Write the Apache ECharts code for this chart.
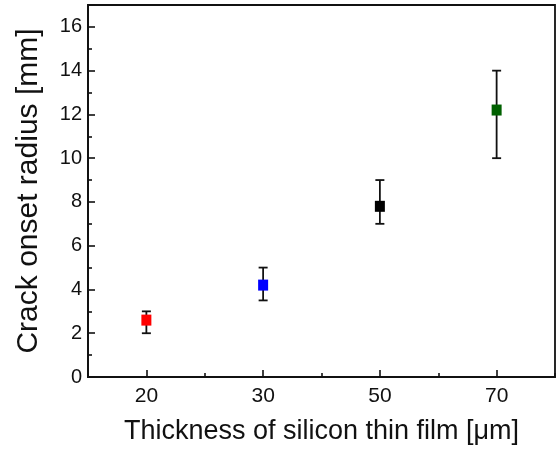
<!DOCTYPE html>
<html>
<head>
<meta charset="utf-8">
<script src="https://cdn.jsdelivr.net/npm/echarts@6/dist/echarts.min.js"></script>
<style>
  html, body { margin: 0; padding: 0; background: #fff; }
  #chart { width: 556px; height: 450px; }
</style>
</head>
<body>
<div id="chart"></div>
<script>
// film thickness (um) and measured crack onset radius (mm)
const thickness = ["20", "30", "50", "70"];
const radius = [2.6, 4.2, 7.8, 12.2];
const errLow = [2.0, 3.5, 7.0, 10.0];
const errHigh = [3.0, 5.0, 9.0, 14.0];
const yTicks = [0, 2, 4, 6, 8, 10, 12, 14, 16];

const markerColors = ["#ff0000", "#0000ff", "#000000", "#006000"];
const font = "Liberation Sans, Arial, sans-serif";

const myChart = echarts.init(document.getElementById("chart"));

const tickStyle = { color: "#111", width: 1.6 };

const option = {
  animation: false,
  grid: {
    left: 88,
    right: 1,
    top: 5,
    bottom: 72,
    show: true,
    borderColor: "#111",
    borderWidth: 1.8,
  },
  xAxis: [
    {
      type: "category",
      data: thickness,
      name: "Thickness of silicon thin film [\u03bcm]",
      nameLocation: "middle",
      nameGap: 41,
      nameTextStyle: { fontFamily: font, fontSize: 27, color: "#111" },
      axisLine: { show: true, lineStyle: { color: "#111", width: 1.8 } },
      axisTick: { show: true, inside: true, alignWithLabel: true, length: 7, lineStyle: tickStyle },
      axisLabel: { show: true, fontFamily: font, fontSize: 21, color: "#111", margin: 9 },
      splitLine: { show: false },
    },
    {
      // short ticks on the boundaries between categories
      type: "category",
      data: thickness,
      position: "bottom",
      axisLine: { show: false },
      axisTick: { show: true, inside: true, length: 4, lineStyle: tickStyle },
      axisLabel: { show: false },
      splitLine: { show: false },
    },
  ],
  yAxis: {
    type: "value",
    min: 0,
    max: 17,
    interval: 2,
    name: "Crack onset radius [mm]",
    nameLocation: "middle",
    nameGap: 44,
    nameTextStyle: { fontFamily: font, fontSize: 30, color: "#111" },
    axisLine: { show: true, lineStyle: { color: "#111", width: 1.8 } },
    axisTick: { show: true, inside: true, length: 7, lineStyle: tickStyle },
    minorTick: { show: true, splitNumber: 2, length: 4, lineStyle: tickStyle },
    axisLabel: {
      show: true,
      fontFamily: font,
      fontSize: 20,
      color: "#111",
      margin: 6,
      showMaxLabel: false,
      formatter: function (v) {
        return yTicks.indexOf(v) >= 0 ? String(v) : "";
      },
    },
    splitLine: { show: false },
  },
  series: [
    {
      type: "custom",
      name: "error",
      z: 1,
      data: thickness.map(function (t, i) {
        return [i, errLow[i], errHigh[i]];
      }),
      renderItem: function (params, api) {
        const lo = api.coord([api.value(0), api.value(1)]);
        const hi = api.coord([api.value(0), api.value(2)]);
        const cap = 4.5;
        const style = { stroke: "#111", lineWidth: 1.8 };
        return {
          type: "group",
          children: [
            { type: "line", shape: { x1: lo[0], y1: lo[1], x2: hi[0], y2: hi[1] }, style: style },
            { type: "line", shape: { x1: lo[0] - cap, y1: lo[1], x2: lo[0] + cap, y2: lo[1] }, style: style },
            { type: "line", shape: { x1: hi[0] - cap, y1: hi[1], x2: hi[0] + cap, y2: hi[1] }, style: style },
          ],
        };
      },
    },
    {
      type: "scatter",
      name: "radius",
      z: 3,
      symbol: "rect",
      symbolSize: [10, 11],
      data: radius.map(function (r, i) {
        return { value: [i, r], itemStyle: { color: markerColors[i], opacity: 1 } };
      }),
    },
  ],
};

myChart.setOption(option);
</script>
</body>
</html>
